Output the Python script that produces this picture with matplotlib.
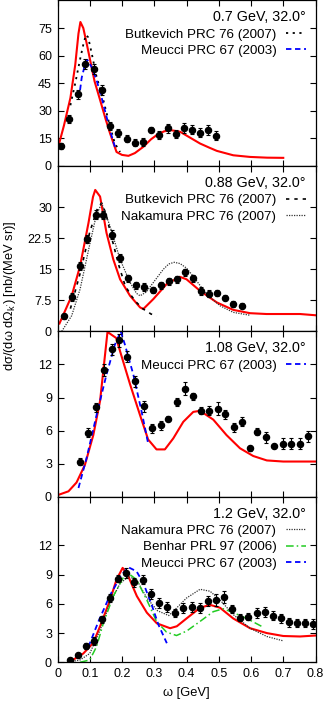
import matplotlib
matplotlib.use("Agg")
import matplotlib.pyplot as plt
from matplotlib.ticker import FormatStrFormatter

plt.rcParams['font.family'] = ['Liberation Sans', 'DejaVu Sans']
plt.rcParams['mathtext.fontset'] = 'custom'
plt.rcParams['mathtext.rm'] = 'Liberation Sans'
plt.rcParams['font.size'] = 9

# ---- panel 1: 0.7 GeV ----
w1 = [0.012, 0.037, 0.063, 0.086, 0.113, 0.137, 0.163, 0.188, 0.214, 0.239,
      0.265, 0.290, 0.316, 0.342, 0.367, 0.392, 0.416, 0.442, 0.468, 0.492]
s1 = [10.9, 25.5, 39.0, 55.5, 52.6, 41.3, 21.8, 17.7, 14.9, 12.7,
      13.1, 19.7, 16.7, 20.4, 17.3, 20.8, 19.8, 18.0, 19.5, 16.4]
e1 = [1.5, 2.0, 2.5, 2.8, 2.8, 2.6, 2.2, 2.2, 2.0, 2.0,
      2.0, 1.5, 2.2, 2.5, 2.2, 2.8, 2.5, 2.5, 2.5, 2.5]
red1_w = [0.0, 0.02, 0.04, 0.055, 0.065, 0.071, 0.08, 0.09, 0.101, 0.115, 0.132,
          0.15, 0.163, 0.183, 0.2, 0.22, 0.24, 0.266, 0.29, 0.307, 0.33, 0.35,
          0.38, 0.41, 0.442, 0.47, 0.494, 0.545, 0.597, 0.65, 0.7]
red1_s = [8.9, 22.0, 37.0, 55.0, 72.0, 78.3, 75.0, 67.0, 57.7, 46.0, 35.9,
          25.0, 17.7, 7.6, 6.0, 5.5, 7.0, 10.4, 14.5, 16.7, 18.8, 19.5,
          18.6, 15.5, 12.2, 10.0, 8.2, 5.8, 4.9, 4.5, 4.4]
but1_w = [0.04, 0.055, 0.07, 0.08, 0.088, 0.095, 0.106, 0.121, 0.142, 0.163, 0.178, 0.194]
but1_s = [33.0, 45.0, 58.0, 66.0, 71.3, 70.0, 61.3, 48.6, 35.9, 21.3, 12.2, 7.6]
meu1_w = [0.070, 0.075, 0.085, 0.093, 0.105, 0.121, 0.137, 0.152, 0.165, 0.178]
meu1_s = [41.3, 48.0, 55.0, 57.7, 54.0, 46.8, 37.0, 26.8, 18.0, 10.4]

# ---- panel 2: 0.88 GeV ----
w2 = [0.019, 0.044, 0.070, 0.093, 0.118, 0.142, 0.168, 0.194, 0.219, 0.244,
      0.269, 0.296, 0.322, 0.346, 0.370, 0.395, 0.419, 0.445, 0.471, 0.496,
      0.520, 0.545, 0.572]
s2 = [3.6, 8.3, 15.8, 22.4, 28.2, 28.2, 23.4, 17.7, 12.8, 11.1,
      10.7, 10.0, 11.1, 12.1, 12.6, 14.3, 12.8, 9.8, 9.1, 9.3,
      8.1, 6.6, 6.2]
e2 = [0.5, 0.9, 0.9, 1.0, 1.1, 1.0, 1.0, 1.0, 0.9, 0.9,
      0.9, 0.8, 0.8, 0.8, 0.9, 0.9, 0.9, 0.9, 0.8, 0.8,
      0.6, 0.7, 0.6]
red2_w = [0.006, 0.044, 0.07, 0.096, 0.11, 0.117, 0.132, 0.152, 0.173, 0.194, 0.225,
          0.256, 0.266, 0.297, 0.338, 0.379, 0.40, 0.442, 0.494, 0.545, 0.597,
          0.648, 0.752, 0.8]
red2_s = [1.9, 8.6, 15.8, 26.2, 32.5, 34.2, 32.6, 23.8, 17.4, 12.6, 8.6,
          5.8, 5.4, 7.8, 11.4, 13.2, 12.6, 9.8, 7.0, 5.2, 4.4,
          4.2, 4.2, 3.9]
nak2_w = [0.013, 0.044, 0.07, 0.101, 0.12, 0.137, 0.163, 0.194, 0.225, 0.245, 0.256,
          0.275, 0.297, 0.328, 0.345, 0.362, 0.38, 0.40, 0.421, 0.462, 0.504, 0.545, 0.597]
nak2_s = [0.0, 3.8, 10.2, 21.4, 28.0, 31.0, 25.4, 17.4, 11.8, 9.2, 8.6,
          9.5, 11.8, 15.0, 16.3, 16.7, 16.4, 15.3, 13.3, 9.0, 6.2, 4.6, 3.9]
but2_w = [0.04, 0.07, 0.1, 0.125, 0.137, 0.15, 0.17, 0.19, 0.21, 0.23, 0.245,
          0.266, 0.29, 0.308]
but2_s = [5.5, 14.0, 24.0, 30.0, 31.0, 28.5, 22.0, 16.0, 11.0, 8.5, 7.0,
          5.4, 4.2, 3.7]

# ---- panel 3: 1.08 GeV ----
w3 = [0.069, 0.095, 0.119, 0.143, 0.168, 0.191, 0.216, 0.241, 0.268, 0.294,
      0.320, 0.344, 0.369, 0.394, 0.419, 0.445, 0.471, 0.497, 0.520, 0.546,
      0.573, 0.597, 0.620, 0.646, 0.672, 0.698, 0.724, 0.752, 0.778]
s3 = [3.2, 5.8, 8.1, 11.5, 13.4, 14.2, 12.7, 10.5, 8.2, 6.2,
      6.5, 7.1, 8.6, 9.8, 9.1, 7.8, 7.8, 8.0, 7.5, 6.3,
      6.8, 4.4, 5.9, 5.4, 4.6, 4.8, 4.8, 4.8, 5.5]
e3 = [0.3, 0.4, 0.4, 0.5, 0.5, 0.6, 0.5, 0.5, 0.5, 0.4,
      0.4, 0.2, 0.4, 0.6, 0.3, 0.3, 0.4, 0.6, 0.4, 0.4,
      0.4, 0.2, 0.3, 0.5, 0.1, 0.5, 0.5, 0.5, 0.5]
red3_w = [0.005, 0.034, 0.059, 0.085, 0.111, 0.132, 0.155, 0.182, 0.194, 0.225,
          0.256, 0.281, 0.307, 0.333, 0.359, 0.39, 0.421, 0.442, 0.483, 0.524,
          0.566, 0.607, 0.649, 0.70, 0.752, 0.8]
red3_s = [0.2, 0.5, 1.3, 2.9, 5.6, 8.7, 14.95, 14.4, 13.2, 10.2,
          7.4, 5.2, 4.3, 4.3, 5.3, 6.8, 7.7, 7.8, 7.0, 5.6,
          4.4, 3.7, 3.3, 3.2, 3.2, 3.2]
meu3_w = [0.065, 0.09, 0.121, 0.152, 0.178, 0.196, 0.209, 0.235, 0.261, 0.282]
meu3_s = [0.8, 3.5, 7.4, 11.1, 13.8, 15.0, 13.8, 11.1, 7.7, 4.7]

# ---- panel 4: 1.2 GeV ----
w4 = [0.039, 0.064, 0.088, 0.114, 0.139, 0.164, 0.188, 0.213, 0.238, 0.264,
      0.289, 0.315, 0.340, 0.365, 0.390, 0.416, 0.441, 0.467, 0.491, 0.517,
      0.542, 0.567, 0.592, 0.618, 0.642, 0.667, 0.693, 0.717, 0.743, 0.768, 0.793]
s4 = [0.24, 0.7, 1.7, 2.2, 4.4, 6.6, 8.6, 9.2, 8.2, 8.5,
      7.0, 6.1, 5.7, 5.1, 5.6, 5.7, 5.6, 6.3, 6.4, 6.7,
      5.5, 4.6, 4.7, 5.1, 5.2, 4.8, 4.5, 4.1, 4.0, 4.0, 3.9]
e4 = [0.2, 0.2, 0.3, 0.4, 0.4, 0.4, 0.4, 0.5, 0.5, 0.5,
      0.5, 0.5, 0.5, 0.4, 0.5, 0.5, 0.5, 0.5, 0.6, 0.6,
      0.4, 0.4, 0.4, 0.5, 0.5, 0.5, 0.5, 0.5, 0.4, 0.4, 0.5]
red4_w = [0.044, 0.08, 0.111, 0.132, 0.163, 0.183, 0.202, 0.22, 0.246, 0.277,
          0.308, 0.349, 0.37, 0.40, 0.442, 0.473, 0.504, 0.545, 0.597, 0.649,
          0.70, 0.752, 0.8]
red4_s = [0.17, 0.9, 2.0, 3.7, 6.4, 8.5, 9.7, 8.8, 6.8, 5.1,
          4.0, 3.5, 3.7, 4.5, 5.6, 5.9, 5.6, 4.5, 3.5, 3.0,
          2.7, 2.65, 2.75]
nak4_w = [0.03, 0.07, 0.10, 0.132, 0.163, 0.194, 0.22, 0.245, 0.277, 0.31, 0.345,
          0.37, 0.40, 0.442, 0.473, 0.504, 0.545, 0.597, 0.649, 0.70]
nak4_s = [0.0, 0.24, 0.9, 3.3, 6.1, 8.1, 8.8, 8.5, 6.6, 5.3, 4.8,
          5.6, 6.6, 7.5, 7.3, 6.4, 4.9, 3.5, 2.65, 2.2]
ben4_w = [0.07, 0.10, 0.121, 0.142, 0.173, 0.204, 0.225, 0.245, 0.277, 0.307,
          0.338, 0.369, 0.40, 0.442, 0.483, 0.514, 0.545, 0.587, 0.638]
ben4_s = [0.0, 0.24, 1.6, 4.0, 6.8, 8.7, 9.0, 8.5, 6.4, 4.2,
          3.1, 2.75, 3.2, 4.2, 5.2, 5.5, 5.1, 4.5, 3.6]
meu4_w = [0.096, 0.127, 0.163, 0.199, 0.22, 0.245, 0.266, 0.292, 0.313, 0.339]
meu4_s = [1.6, 4.2, 6.9, 9.0, 9.76, 9.35, 8.15, 5.9, 3.85, 1.96]

titles = ["0.7 GeV, 32.0°", "0.88 GeV, 32.0°", "1.08 GeV, 32.0°", "1.2 GeV, 32.0°"]
ylims = [90, 40, 15, 17]
yticks = [[0, 15, 30, 45, 60, 75], [0, 7.5, 15, 22.5, 30], [0, 3, 6, 9, 12], [0, 3, 6, 9, 12]]
xticks = [0, 0.1, 0.2, 0.3, 0.4, 0.5, 0.6, 0.7, 0.8]

RED = '#ff0000'
BLUE = '#0000ff'
GREEN = '#22cc22'

fig, axes = plt.subplots(4, 1, figsize=(3.26, 7.05), dpi=100, sharex=True)
fig.subplots_adjust(left=0.1764, right=0.9678, top=0.9993, bottom=0.0606, hspace=0)

pts = [(w1, s1, e1), (w2, s2, e2), (w3, s3, e3), (w4, s4, e4)]
reds = [(red1_w, red1_s), (red2_w, red2_s), (red3_w, red3_s), (red4_w, red4_s)]

for i, ax in enumerate(axes):
    ax.plot(*reds[i], color=RED, lw=1.5, zorder=2)

# theory curves with legend entries
a = axes[0]
a.plot(but1_w, but1_s, color='black', lw=1.3, ls=(0, (1.2, 2.5)), label="Butkevich PRC 76 (2007)")
a.plot(meu1_w, meu1_s, color=BLUE, lw=1.3, ls=(0, (3, 2)), label="Meucci PRC 67 (2003)")
a = axes[1]
a.plot(but2_w, but2_s, color='black', lw=1.2, ls=(0, (2, 3)), label="Butkevich PRC 76 (2007)")
a.plot(nak2_w, nak2_s, color='#333333', lw=0.9, ls=(0, (1, 1)), label="Nakamura PRC 76 (2007)")
a = axes[2]
a.plot(meu3_w, meu3_s, color=BLUE, lw=1.3, ls=(0, (3, 2)), label="Meucci PRC 67 (2003)")
a = axes[3]
a.plot(nak4_w, nak4_s, color='#333333', lw=0.9, ls=(0, (1, 1)), label="Nakamura PRC 76 (2007)")
a.plot(ben4_w, ben4_s, color=GREEN, lw=1.1, ls=(0, (5, 2, 1, 2)), label="Benhar PRL 97 (2006)")
a.plot(meu4_w, meu4_s, color=BLUE, lw=1.3, ls=(0, (3, 2)), label="Meucci PRC 67 (2003)")

for i, ax in enumerate(axes):
    w, s, e = pts[i]
    ax.errorbar(w, s, yerr=e, fmt='o', color='black', ms=4.4, elinewidth=0.8,
                capsize=1.6, capthick=0.8, zorder=3)
    ax.set_xlim(0, 0.8)
    ax.set_ylim(0, ylims[i])
    ax.set_yticks(yticks[i])
    ax.set_xticks(xticks)
    ax.yaxis.set_major_formatter(FormatStrFormatter('%g'))
    ax.xaxis.set_major_formatter(FormatStrFormatter('%g'))
    ax.tick_params(direction='in', top=True, right=True, length=4, width=0.8,
                   labelsize=9, pad=4)
    for sp in ax.spines.values():
        sp.set_linewidth(0.9)
    ax.legend(loc='upper right', frameon=False, markerfirst=False,
              title=titles[i], title_fontsize=10.3, fontsize=9.6,
              alignment='right', handlelength=1.5, handletextpad=0.68,
              labelspacing=0.3, borderaxespad=0.3, borderpad=0.45)

axes[3].set_xlabel("ω [GeV]", fontsize=9.3, labelpad=5)
fig.text(0.032, 0.58, "dσ/(dω dΩ$_{\\mathrm{k'}}$) [nb/(MeV sr)]", rotation=90,
         ha='center', va='center', fontsize=9.3)

fig.savefig("out.png", dpi=100)
